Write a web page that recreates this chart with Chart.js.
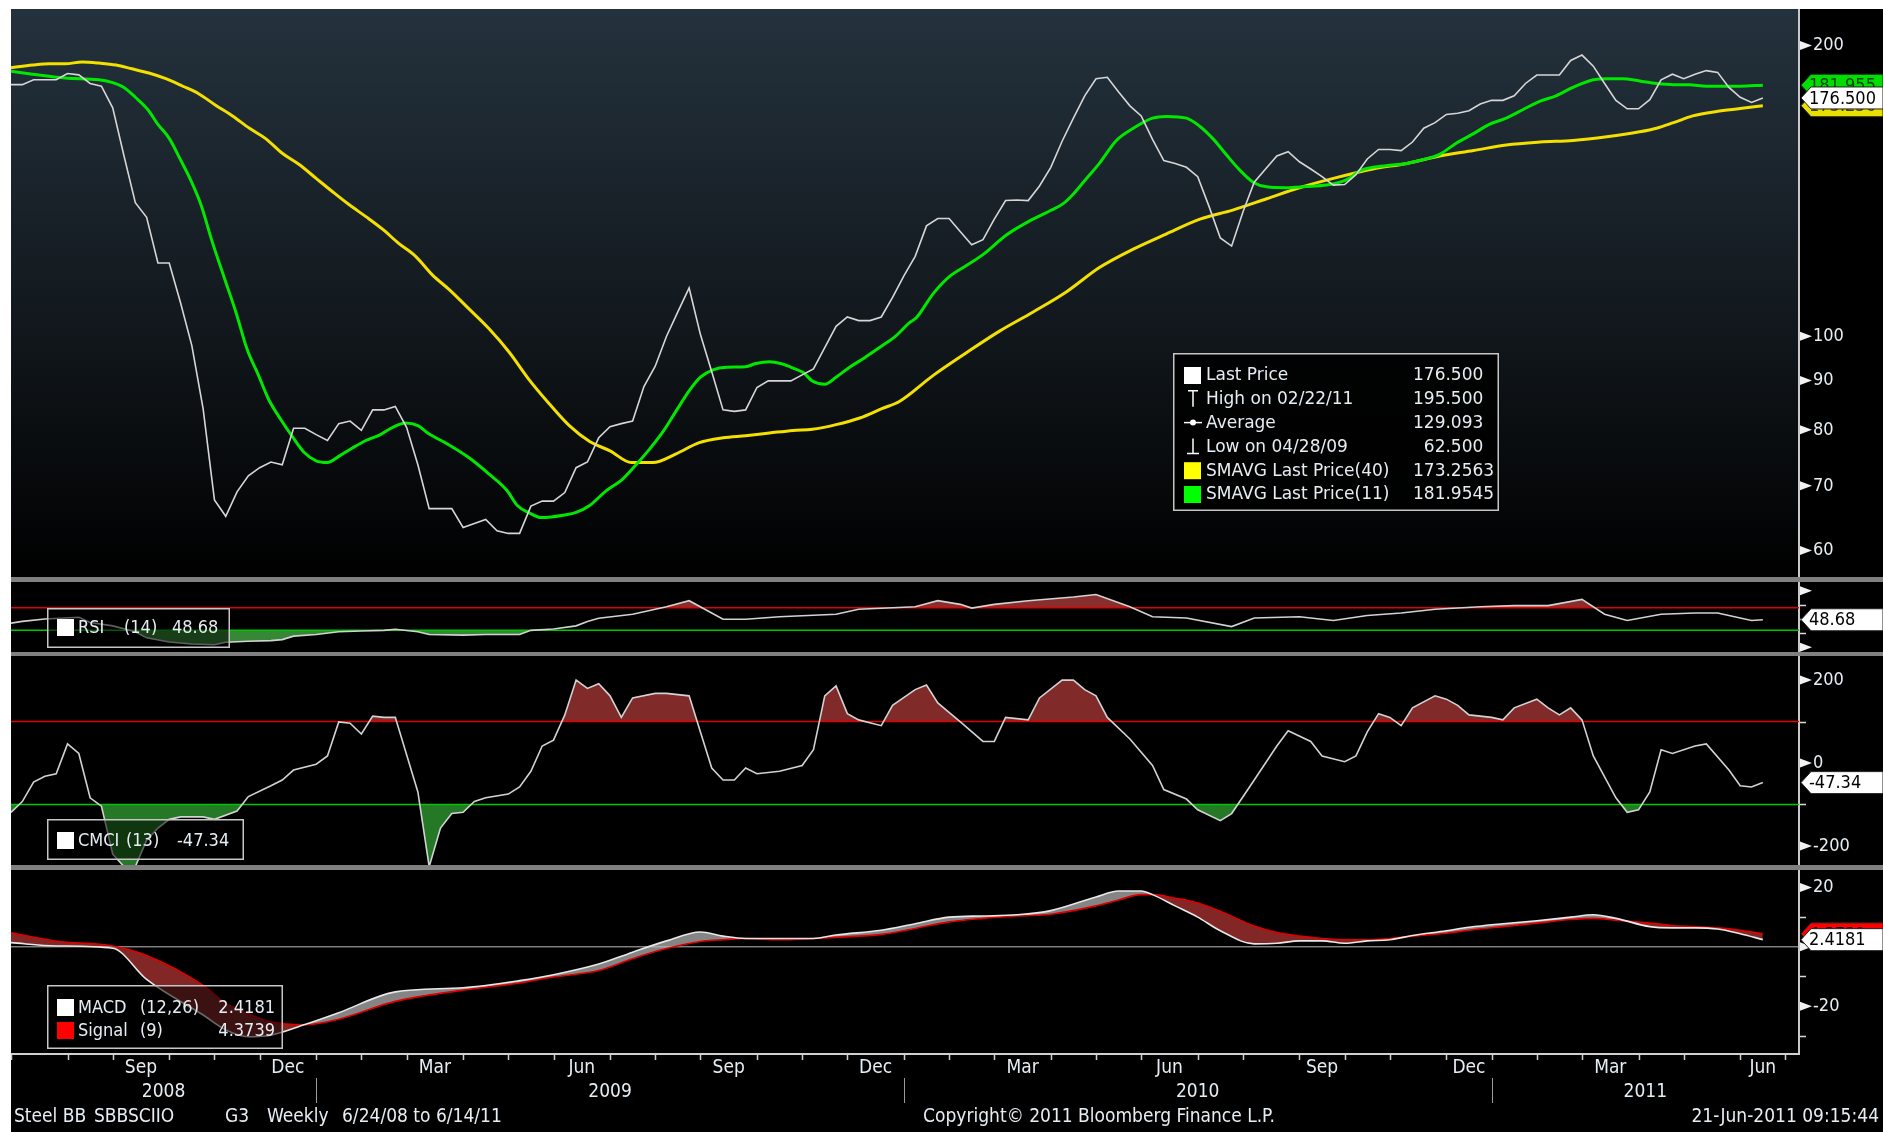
<!DOCTYPE html>
<html>
<head>
<meta charset="utf-8">
<title>Steel BB SBBSCIIO</title>
<script src="https://cdn.jsdelivr.net/npm/chart.js@4.4.1/dist/chart.umd.min.js"></script>
<style>
  html, body { margin: 0; padding: 0; background: #000; }
  #page { position: relative; width: 1883px; height: 1132px; overflow: hidden; background: #000; }
  #page canvas { position: absolute; left: 0; }
  .frame { position: absolute; background: #fff; }
  .sep { position: absolute; left: 11px; width: 1872px; background: #808080; }
</style>
</head>
<body>
<div id="page">
  <div class="frame" style="left:0;top:0;width:1883px;height:9px"></div>
  <div class="frame" style="left:0;top:0;width:11px;height:1132px"></div>
  <canvas id="cPrice" width="1883" height="568" style="top:9px"></canvas>
  <div class="sep" style="top:577px;height:5px"></div>
  <canvas id="cRsi" width="1883" height="70" style="top:582px"></canvas>
  <div class="sep" style="top:652px;height:4px"></div>
  <canvas id="cCmci" width="1883" height="209" style="top:656px"></canvas>
  <div class="sep" style="top:865px;height:5px"></div>
  <canvas id="cMacd" width="1883" height="262" style="top:870px"></canvas>
</div>
<script>
// weekly closes, one per week from 6/24/08 to 6/14/11
const price = [
  182.2, 182.2, 184.3, 184.3, 184.3, 187.1, 186.5, 182.7, 181.5, 172.4,
  153.7, 137.5, 132.8, 119.1, 119.1, 108.3, 97.8, 84.1, 67.7, 65.1,
  69.0, 71.7, 73.1, 74.1, 73.6, 80.3, 80.3, 79.1, 78.0, 81.2,
  81.7, 79.9, 83.9, 83.9, 84.6, 80.5, 73.6, 66.3, 66.3, 66.3,
  63.4, 64.0, 64.6, 62.9, 62.5, 62.5, 66.7, 67.5, 67.5, 68.9,
  73.1, 74.1, 78.5, 80.6, 81.2, 81.7, 88.7, 93.1, 100.0, 106.0,
  112.2, 100.4, 91.9, 83.9, 83.6, 83.9, 88.5, 89.9, 89.9, 89.9,
  91.2, 92.5, 97.3, 102.4, 104.7, 103.8, 103.8, 104.7, 109.7, 115.5,
  121.0, 130.1, 132.4, 132.4, 128.3, 124.4, 125.9, 132.2, 138.2, 138.4,
  138.2, 143.1, 149.6, 159.2, 168.2, 177.4, 184.8, 185.4, 179.0, 173.2,
  169.1, 159.9, 152.0, 151.0, 149.6, 146.3, 136.3, 126.4, 124.0, 134.5,
  144.4, 149.0, 153.7, 155.3, 151.6, 149.0, 146.3, 143.4, 143.6, 147.0,
  152.6, 156.1, 156.1, 155.7, 158.9, 164.2, 166.4, 169.7, 170.2, 171.2,
  174.0, 175.5, 175.5, 177.4, 182.7, 186.4, 186.4, 186.4, 193.0, 195.5,
  190.4, 182.7, 175.5, 172.0, 172.0, 175.8, 184.3, 186.8, 184.8, 186.8,
  188.4, 187.6, 181.0, 176.8, 174.6, 176.5
];
const avgPrice = 129.093;

// 40-week moving average, read at these week positions
const sma40At = [0, 1.9, 3.4, 4.8, 6.3, 7.8, 9.3, 10.7, 12.2, 13.7, 15.2, 16.6, 18.1, 19.6, 21.1, 22.5, 24.0, 25.5, 27.0, 28.4,
  29.9, 31.4, 32.9, 34.3, 35.8, 37.3, 38.8, 40.5, 42.3, 44.1, 45.8, 47.6, 49.4, 51.2, 53.0, 54.9, 56.8, 58.8, 60.9, 63.0,
  65.0, 67.1, 69.2, 70.9, 73.0, 75.1, 77.1, 78.6, 81.6, 84.5, 87.5, 90.4, 93.4, 96.3, 99.3, 102.2, 105.2, 108.1, 111.1, 114.0,
  117.0, 120.5, 123.5, 126.4, 129.4, 132.3, 135.3, 138.2, 141.2, 144.1, 145.6, 147.1, 148.8, 150.9, 153.0, 155.0];
const sma40 = [189.7, 190.9, 191.5, 191.5, 192.3, 191.8, 190.9, 189.2, 187.3, 184.8, 181.5, 178.3, 173.5, 169.1, 164.2, 160.3, 154.7, 150.6, 145.7, 141.3,
  136.9, 133.0, 129.0, 124.8, 121.0, 115.7, 111.7, 106.8, 101.8, 96.2, 90.3, 85.2, 80.8, 77.8, 76.1, 74.0, 74.0, 75.5, 77.6, 78.5,
  78.9, 79.4, 79.9, 80.1, 81.0, 82.3, 84.2, 85.6, 91.1, 96.1, 101.3, 105.9, 111.2, 117.8, 123.1, 127.6, 132.2, 135.1, 138.8, 142.5,
  145.7, 149.0, 151.0, 153.7, 155.7, 157.8, 158.9, 159.5, 160.9, 162.8, 164.2, 166.4, 169.1, 170.9, 172.1, 173.2563];

// 11-week moving average
const sma11At = [0, 1.9, 4.8, 7.8, 9.0, 10.0, 11.0, 12.1, 13.0, 14.0, 15.0, 15.9, 16.8, 17.8, 18.9, 19.9, 20.9, 21.9, 22.8, 23.9,
  24.9, 25.9, 27.0, 28.0, 29.0, 30.2, 31.4, 32.6, 33.8, 34.9, 36.0, 37.0, 38.5, 40.5, 42.3, 43.9, 44.8, 45.9, 46.9, 49.0,
  50.0, 51.2, 52.6, 54.1, 55.3, 56.5, 57.7, 58.8, 60.0, 61.0, 62.1, 63.3, 65.0, 65.9, 67.1, 68.1, 69.2, 70.1, 70.9, 72.0,
  73.0, 74.2, 75.4, 77.1, 78.3, 79.5, 80.1, 81.6, 83.0, 84.5, 86.0, 88.1, 90.1, 91.9, 93.1, 94.0, 95.1, 96.3, 97.8, 99.3,
  101.0, 102.2, 104.0, 105.2, 106.4, 107.5, 108.7, 109.9, 111.1, 112.8, 114.6, 116.4, 117.6, 118.4, 119.3, 120.5, 122.0, 123.5, 124.9, 126.4,
  127.9, 129.4, 130.8, 132.3, 133.8, 135.3, 136.7, 138.2, 140.0, 141.2, 142.6, 144.1, 145.6, 147.1, 148.5, 150.0, 151.5, 153.0, 155.0];
const sma11 = [188.1, 186.8, 185.1, 184.3, 183.1, 181.0, 176.8, 171.7, 165.7, 160.3, 152.3, 145.1, 136.9, 125.3, 114.7, 105.9, 96.9, 91.1, 86.0, 81.9,
  78.7, 75.9, 74.3, 74.0, 75.1, 76.6, 78.0, 79.0, 80.5, 81.3, 80.8, 79.2, 77.5, 74.9, 72.0, 69.2, 66.8, 65.6, 64.9, 65.3,
  65.7, 66.8, 69.1, 71.1, 73.6, 76.4, 79.7, 83.5, 87.8, 90.7, 92.3, 92.9, 93.0, 93.7, 94.1, 93.7, 92.7, 91.7, 89.9, 89.2,
  90.7, 92.9, 94.8, 97.8, 100.1, 103.3, 104.5, 110.7, 115.2, 118.3, 121.5, 127.4, 131.6, 134.8, 137.2, 140.4, 145.4, 151.0, 159.5, 164.2,
  168.2, 168.9, 168.2, 164.9, 159.9, 154.3, 148.7, 144.4, 142.8, 142.5, 142.9, 143.4, 144.4, 145.7, 148.3, 149.6, 150.3, 151.0, 152.3, 154.3,
  158.5, 162.1, 165.7, 168.2, 171.7, 175.2, 177.4, 181.0, 184.3, 184.8, 184.8, 183.8, 182.7, 182.2, 182.2, 181.5, 181.5, 181.5, 181.9545];

// RSI(14)
const rsiAt = [0, 1, 3, 6, 7, 9, 11, 12, 14, 16, 18, 19, 21, 23, 24, 25, 27, 29, 31, 33,
  34, 36, 37, 40, 42, 45, 46, 48, 50, 51, 52, 55, 58, 60, 62, 63, 65, 68, 73, 75,
  80, 82, 84, 85, 87, 90, 94, 96, 99, 101, 104, 108, 110, 114, 117, 120, 123, 126, 130, 133,
  136, 139, 141, 143, 146, 149, 151, 154, 155];
const rsi = [42.7, 45.8, 50.0, 53.0, 43.9, 37.9, 27.6, 16.7, 9.4, 5.8, 4.6, 8.8, 10.6, 11.8, 13.6, 19.7, 22.7, 27.6, 28.8, 30.0,
  31.8, 27.6, 22.7, 21.5, 22.7, 22.7, 30.0, 32.4, 37.9, 45.8, 51.2, 58.5, 71.6, 82.4, 60.6, 49.7, 49.7, 54.0, 58.5, 67.2,
  71.6, 82.4, 75.9, 69.3, 75.9, 82.4, 88.9, 93.4, 71.6, 54.0, 51.9, 36.6, 51.9, 54.0, 47.5, 56.3, 60.6, 67.2, 71.6, 73.7,
  73.7, 84.6, 58.5, 47.5, 58.5, 60.6, 60.6, 47.5, 48.68];

// CMCI(13)
const cmciAt = [0, 1, 2, 3, 4, 5, 6, 7, 8, 9, 10, 11, 12, 13, 14, 15, 17, 18, 20, 21,
  23, 24, 25, 27, 28, 29, 30, 31, 32, 33, 34, 36, 37, 38, 39, 40, 41, 42, 44, 45,
  46, 47, 48, 49, 50, 51, 52, 53, 54, 55, 57, 58, 60, 61, 62, 63, 64, 65, 66, 68,
  70, 71, 72, 73, 74, 75, 77, 78, 80, 81, 82, 84, 86, 87, 88, 90, 91, 93, 94, 95,
  96, 97, 99, 101, 102, 104, 105, 107, 108, 110, 112, 113, 115, 116, 118, 119, 120, 121, 122, 123,
  124, 126, 127, 128, 129, 131, 132, 133, 135, 136, 137, 138, 139, 140, 142, 143, 144, 145, 146, 147,
  149, 150, 152, 153, 154, 155];
const cmci = [-119, -93, -46, -32, -26, 46, 23, -84, -104, -220, -250, -250, -186, -157, -136, -130, -130, -136, -116, -81,
  -55, -41, -17, -3, 17, 99, 96, 70, 113, 110, 110, -70, -250, -157, -122, -119, -93, -84, -75, -58,
  -20, 41, 55, 116, 200, 180, 191, 162, 110, 157, 168, 168, 162, 75, -12, -41, -41, -12, -26, -20,
  -6, 32, 162, 186, 119, 104, 90, 139, 177, 188, 145, 99, 52, 52, 110, 104, 157, 200, 200, 177,
  162, 110, 58, -6, -64, -87, -113, -139, -122, -41, 41, 78, 52, 17, 3, 17, 75, 119, 110, 90,
  133, 162, 154, 139, 116, 110, 104, 133, 154, 133, 116, 133, 104, 17, -84, -119, -113, -70, 32, 23,
  41, 46, -17, -55, -58, -47.34];

// MACD(12,26) and its 9-week signal line
const macdAt = [0, 4, 9, 12, 17, 19, 21, 23, 26, 29, 34, 40, 45, 48, 52, 55, 58, 61, 63, 65,
  68, 71, 73, 77, 80, 83, 86, 89, 92, 96, 98, 100, 101, 103, 105, 107, 110, 112, 114, 116,
  118, 120, 122, 124, 127, 129, 132, 135, 138, 140, 142, 145, 147, 149, 151, 153, 155];
const macd = [1.4, 0.3, -0.5, -11.0, -23.0, -28.0, -30.3, -29.8, -26.2, -22.2, -15.2, -13.8, -11.4, -9.4, -5.8, -1.8, 2.0, 5.0, 3.6, 2.8,
  2.8, 2.8, 4.0, 5.6, 7.8, 10.0, 10.4, 10.8, 12.2, 16.8, 18.8, 18.8, 17.6, 13.8, 10.0, 5.4, 1.0, 1.2, 2.0, 2.0,
  1.2, 2.0, 2.4, 3.8, 5.4, 6.6, 7.8, 8.8, 10.0, 10.8, 9.6, 6.8, 6.4, 6.4, 6.0, 4.4, 2.4181];
const signal = [4.7, 1.9, 0.3, -2.9, -13.0, -19.0, -22.5, -25.3, -26.3, -24.4, -18.4, -14.6, -12.2, -10.2, -8.0, -4.0, -0.6, 1.8, 2.4, 2.8,
  2.4, 2.8, 3.2, 4.2, 6.2, 8.4, 9.6, 10.4, 11.0, 13.8, 15.8, 17.6, 17.6, 16.4, 14.8, 12.0, 7.0, 4.8, 3.6, 2.8,
  2.4, 2.4, 2.8, 3.6, 4.6, 5.6, 6.8, 8.0, 9.2, 9.6, 9.0, 8.0, 7.2, 6.8, 6.4, 5.6, 4.3739];

const priceTicks = [60, 70, 80, 90, 100, 200];
const cmciTicks = [200, 0, -200];
const macdTicks = [20, 0, -20];
const MONTHS = ['Jan', 'Feb', 'Mar', 'Apr', 'May', 'Jun', 'Jul', 'Aug', 'Sep', 'Oct', 'Nov', 'Dec'];

const FIRST_WEEK = Date.UTC(2008, 5, 24);
const X_MAX = 158.2;          // weeks shown up to the value axis
const AXIS_W = 84;
const COND = '"DejaVu Sans Condensed", "DejaVu Sans", sans-serif';
const WIDE = '"DejaVu Sans", Verdana, sans-serif';
const TXT = '#e6edf3';

const xy = (xs, ys) => xs.map((x, i) => ({ x, y: ys[i] }));
const hline = v => [{ x: 0, y: v }, { x: X_MAX, y: v }];
const last = a => a[a.length - 1];
const fix = (v, n) => (v + 1e-9).toFixed(n);
const weekDate = i => new Date(FIRST_WEEK + i * 7 * 86400000);
const pad2 = n => String(n).padStart(2, '0');
const mmddyy = d => `${pad2(d.getUTCMonth() + 1)}/${pad2(d.getUTCDate())}/${pad2(d.getUTCFullYear() % 100)}`;
const mdyy = d => `${d.getUTCMonth() + 1}/${d.getUTCDate()}/${pad2(d.getUTCFullYear() % 100)}`;

// last weekly point of every month, used for ticks and labels
const monthEnds = [];
for (let i = 0; i < 165; i++) {
  const a = weekDate(i), b = weekDate(i + 1);
  if (a.getUTCMonth() !== b.getUTCMonth()) monthEnds.push({ i, m: a.getUTCMonth(), y: a.getUTCFullYear() });
}

function line(data, color, width, extra) {
  return Object.assign({ data, borderColor: color, borderWidth: width, pointRadius: 0, tension: 0, fill: false }, extra || {});
}

function options(y, padBottom) {
  return {
    responsive: false, animation: false, events: [],
    layout: { padding: { left: 11, right: 0, top: 0, bottom: padBottom || 0 } },
    plugins: { legend: { display: false }, tooltip: { enabled: false }, filler: { drawTime: 'beforeDatasetsDraw' } },
    scales: {
      x: { type: 'linear', min: 0, max: X_MAX, display: false },
      y: {
        type: y.type || 'linear', position: 'right', min: y.min, max: y.max,
        afterBuildTicks: s => { s.ticks = (y.ticks || []).map(value => ({ value })); },
        afterFit: s => { s.width = AXIS_W; s.paddingTop = 0; s.paddingBottom = 0; },
        grid: { display: false, drawTicks: false },
        border: { display: true, color: '#c8c8c8', width: 2 },
        ticks: { color: TXT, font: { family: COND, size: 18 }, padding: 14, autoSkip: false, callback: v => String(v) }
      }
    }
  };
}

// arrow marks on the value axis
const axisMarks = (major, minor) => ({
  id: 'axisMarks',
  afterDraw(chart) {
    const { ctx, chartArea, scales: { y } } = chart;
    const x0 = chartArea.right + 1;
    ctx.save();
    ctx.fillStyle = '#f2f2f2';
    major.forEach(v => {
      const py = y.getPixelForValue(v);
      ctx.beginPath(); ctx.moveTo(x0, py - 4.5); ctx.lineTo(x0 + 12, py); ctx.lineTo(x0, py + 4.5); ctx.closePath(); ctx.fill();
    });
    ctx.strokeStyle = '#d8d8d8'; ctx.lineWidth = 1.5;
    minor.forEach(v => {
      const py = Math.round(y.getPixelForValue(v)) + 0.5;
      ctx.beginPath(); ctx.moveTo(x0, py); ctx.lineTo(x0 + 6, py); ctx.stroke();
    });
    ctx.restore();
  }
});

// last-value flags pinned to the value axis
const valueTags = tags => ({
  id: 'valueTags',
  afterDraw(chart) {
    const { ctx, chartArea, scales: { y } } = chart;
    const x0 = chartArea.right + 2, x1 = chart.width;
    ctx.save();
    ctx.font = `18px ${COND}`; ctx.textBaseline = 'middle'; ctx.textAlign = 'left';
    tags.forEach(t => {
      const py = y.getPixelForValue(t.value);
      ctx.beginPath();
      ctx.moveTo(x0, py); ctx.lineTo(x0 + 10, py - 11); ctx.lineTo(x1, py - 11);
      ctx.lineTo(x1, py + 11); ctx.lineTo(x0 + 10, py + 11); ctx.closePath();
      ctx.fillStyle = t.bg; ctx.fill();
      ctx.lineWidth = 1; ctx.strokeStyle = '#222'; ctx.stroke();
      ctx.fillStyle = t.fg; ctx.fillText(t.text, x0 + 8, py + 1);
    });
    ctx.restore();
  }
});

function frameBox(ctx, x, y, w, h, fill) {
  ctx.fillStyle = fill; ctx.fillRect(x, y, w, h);
  ctx.strokeStyle = '#c6c6c6'; ctx.lineWidth = 1.5; ctx.strokeRect(x + 0.75, y + 0.75, w - 1.5, h - 1.5);
}

// small study key in the lower left of a pane (page coordinates)
const keyBox = (top, box, rows) => ({
  id: 'keyBox',
  afterDraw(chart) {
    const ctx = chart.ctx;
    ctx.save();
    frameBox(ctx, box.x, box.y - top, box.w, box.h, 'rgba(0,0,0,0.55)');
    ctx.font = `18px ${COND}`; ctx.textBaseline = 'middle';
    rows.forEach(r => {
      const cy = r.y - top;
      ctx.fillStyle = r.swatch; ctx.fillRect(57, cy - 8, 17, 17);
      ctx.fillStyle = TXT;
      r.cells.forEach(c => { ctx.textAlign = c.align || 'left'; ctx.fillText(c.text, c.x, cy + 1); });
    });
    ctx.restore();
  }
});

// price pane background and legend
const pricePane = {
  id: 'pricePane',
  beforeDraw(chart) {
    const { ctx, chartArea: a } = chart;
    const g = ctx.createLinearGradient(0, a.top, 0, a.bottom);
    g.addColorStop(0, '#24323d');
    g.addColorStop(0.55, '#12181d');
    g.addColorStop(1, '#000000');
    ctx.save(); ctx.fillStyle = g; ctx.fillRect(a.left, a.top, a.right - a.left, a.bottom - a.top); ctx.restore();
  },
  afterDraw(chart) {
    const ctx = chart.ctx, top = 9;
    const hi = Math.max(...price), lo = Math.min(...price);
    const rows = [
      { icon: 'sq', color: '#ffffff', text: 'Last Price', val: fix(last(price), 3) },
      { icon: 'hi', text: `High on ${mmddyy(weekDate(price.indexOf(hi)))}`, val: fix(hi, 3) },
      { icon: 'avg', text: 'Average', val: fix(avgPrice, 3) },
      { icon: 'lo', text: `Low on ${mmddyy(weekDate(price.indexOf(lo)))}`, val: fix(lo, 3) },
      { icon: 'sq', color: '#ffff00', text: 'SMAVG Last Price(40)', val: fix(last(sma40), 4), left: true },
      { icon: 'sq', color: '#00ff00', text: 'SMAVG Last Price(11)', val: fix(last(sma11), 4), left: true }
    ];
    ctx.save();
    frameBox(ctx, 1173, 353 - top, 326, 158, 'rgba(0,0,0,0.88)');
    ctx.font = `17px ${WIDE}`; ctx.textBaseline = 'middle';
    const valX = 1413, valR = valX + ctx.measureText(rows[0].val).width;
    rows.forEach((r, k) => {
      const cy = 375 + k * 23.8 - top;
      ctx.fillStyle = r.color || '#ffffff'; ctx.strokeStyle = '#ffffff'; ctx.lineWidth = 1.5;
      if (r.icon === 'sq') ctx.fillRect(1184, cy - 8, 17, 17);
      if (r.icon === 'hi') {
        ctx.beginPath(); ctx.moveTo(1188, cy - 8); ctx.lineTo(1198, cy - 8); ctx.moveTo(1193, cy - 8); ctx.lineTo(1193, cy + 8); ctx.stroke();
      }
      if (r.icon === 'avg') {
        ctx.beginPath(); ctx.moveTo(1184, cy); ctx.lineTo(1202, cy); ctx.stroke();
        ctx.beginPath(); ctx.arc(1193, cy, 3, 0, Math.PI * 2); ctx.fill();
      }
      if (r.icon === 'lo') {
        ctx.beginPath(); ctx.moveTo(1193, cy - 8); ctx.lineTo(1193, cy + 7); ctx.moveTo(1187, cy + 7); ctx.lineTo(1199, cy + 7); ctx.stroke();
      }
      ctx.fillStyle = TXT; ctx.textAlign = 'left';
      ctx.fillText(r.text, 1206, cy + 1);
      if (r.left) ctx.fillText(r.val, valX, cy + 1);
      else { ctx.textAlign = 'right'; ctx.fillText(r.val, valR, cy + 1); }
    });
    ctx.restore();
  }
};

// month / year time axis and footer under the bottom pane
const timeAxis = {
  id: 'timeAxis',
  afterDraw(chart) {
    const { ctx, chartArea: a, scales: { x } } = chart;
    const yl = a.bottom;
    ctx.save();
    ctx.strokeStyle = '#d0d0d0'; ctx.lineWidth = 2;
    ctx.beginPath(); ctx.moveTo(a.left, yl + 1); ctx.lineTo(a.right + 1, yl + 1); ctx.stroke();
    ctx.lineWidth = 1.5;
    ctx.font = `19px ${COND}`; ctx.fillStyle = TXT; ctx.textAlign = 'center'; ctx.textBaseline = 'middle';
    monthEnds.forEach((m, k) => {
      const px = Math.round(x.getPixelForValue(m.i)) + 0.5;
      if (m.i <= X_MAX) { ctx.beginPath(); ctx.moveTo(px, yl + 1); ctx.lineTo(px, yl + 7); ctx.stroke(); }
      if (k > 0 && m.m % 3 === 2) {
        const c = (monthEnds[k - 1].i + m.i) / 2;
        if (c <= X_MAX) ctx.fillText(MONTHS[m.m], x.getPixelForValue(c), yl + 15);
      }
    });
    // year spans split at the last week of December
    const cuts = [0, ...monthEnds.filter(m => m.m === 11 && m.i < X_MAX).map(m => m.i), X_MAX];
    ctx.strokeStyle = '#9a9a9a'; ctx.lineWidth = 1;
    for (let k = 0; k < cuts.length - 1; k++) {
      const year = weekDate(cuts[k] + 1).getUTCFullYear();
      ctx.fillText(String(year), x.getPixelForValue((cuts[k] + cuts[k + 1]) / 2), yl + 39);
      if (k > 0) {
        const px = Math.round(x.getPixelForValue(cuts[k])) + 0.5;
        ctx.beginPath(); ctx.moveTo(px, yl + 25); ctx.lineTo(px, yl + 50); ctx.stroke();
      }
    }
    // footer line
    ctx.font = `19px ${COND}`; ctx.textAlign = 'left';
    const fy = yl + 64;
    [['Steel BB', 14], ['SBBSCIIO', 94], ['G3', 225], ['Weekly', 267],
     [`${mdyy(weekDate(0))} to ${mdyy(weekDate(price.length - 1))}`, 342]].forEach(([t, px]) => ctx.fillText(t, px, fy));
    ctx.textAlign = 'center';
    ctx.fillText('Copyright\u00A9 2011 Bloomberg Finance L.P.', 1099, fy);
    ctx.textAlign = 'right';
    ctx.fillText('21-Jun-2011 09:15:44', 1879, fy);
    ctx.restore();
  }
};

// ---- price pane
new Chart(document.getElementById('cPrice'), {
  type: 'line',
  data: {
    datasets: [
      line(price.map((v, i) => ({ x: i, y: v })), '#d6d6d6', 1.6),
      line(xy(sma11At, sma11), '#00e800', 3, { cubicInterpolationMode: 'monotone' }),
      line(xy(sma40At, sma40), '#f4e000', 3, { cubicInterpolationMode: 'monotone' })
    ]
  },
  options: options({ type: 'logarithmic', min: 56.33, max: 218.2, ticks: priceTicks }),
  plugins: [pricePane, axisMarks(priceTicks, []), valueTags([
    { value: last(sma11), text: fix(last(sma11), 3), bg: '#00dd00', fg: '#004400' },
    { value: last(sma40), text: fix(last(sma40), 3), bg: '#e8e000', fg: '#444000' },
    { value: last(price), text: fix(last(price), 3), bg: '#ffffff', fg: '#000000' }
  ])]
});

// ---- RSI pane
new Chart(document.getElementById('cRsi'), {
  type: 'line',
  data: {
    datasets: [
      line(xy(rsiAt, rsi), '#d2d2d2', 1.6, { fill: { target: { value: 70 }, above: 'rgba(150,52,52,0.9)', below: 'rgba(0,0,0,0)' } }),
      line(xy(rsiAt, rsi), 'rgba(0,0,0,0)', 0, { fill: { target: { value: 30 }, above: 'rgba(0,0,0,0)', below: 'rgba(60,150,60,0.9)' } }),
      line(hline(70), '#e00000', 1.5),
      line(hline(30), '#00c800', 1.5)
    ]
  },
  options: options({ min: -8.3, max: 115.4, ticks: [] }),
  plugins: [axisMarks([100, 0], [75, 50, 25]), valueTags([
    { value: last(rsi), text: fix(last(rsi), 2), bg: '#ffffff', fg: '#000000' }
  ]), keyBox(582, { x: 47, y: 608, w: 183, h: 40 }, [
    { y: 627, swatch: '#ffffff', cells: [{ text: 'RSI', x: 78 }, { text: '(14)', x: 124 }, { text: fix(last(rsi), 2), x: 172 }] }
  ])]
});

// ---- CMCI pane
new Chart(document.getElementById('cCmci'), {
  type: 'line',
  data: {
    datasets: [
      line(xy(cmciAt, cmci), '#d2d2d2', 1.6, { fill: { target: { value: 100 }, above: 'rgba(140,46,46,0.92)', below: 'rgba(0,0,0,0)' } }),
      line(xy(cmciAt, cmci), 'rgba(0,0,0,0)', 0, { fill: { target: { value: -100 }, above: 'rgba(0,0,0,0)', below: 'rgba(40,130,40,0.92)' } }),
      line(hline(100), '#e00000', 1.5),
      line(hline(-100), '#00c800', 1.5)
    ]
  },
  options: options({ min: -246.1, max: 258.1, ticks: cmciTicks }),
  plugins: [axisMarks(cmciTicks, [100, -100]), valueTags([
    { value: last(cmci), text: fix(last(cmci), 2), bg: '#ffffff', fg: '#000000' }
  ]), keyBox(656, { x: 47, y: 819, w: 197, h: 41 }, [
    { y: 840, swatch: '#ffffff', cells: [{ text: 'CMCI', x: 78 }, { text: '(13)', x: 126 }, { text: fix(last(cmci), 2), x: 177 }] }
  ])]
});

// ---- MACD pane with the time axis underneath
new Chart(document.getElementById('cMacd'), {
  type: 'line',
  data: {
    datasets: [
      line(xy(macdAt, macd), '#e8e8e8', 1.6, { cubicInterpolationMode: 'monotone', fill: { target: 1, above: 'rgba(140,140,140,0.95)', below: 'rgba(138,40,40,0.95)' } }),
      line(xy(macdAt, signal), '#e00000', 1.6, { cubicInterpolationMode: 'monotone' }),
      line(hline(0), '#bdbdbd', 1)
    ]
  },
  options: options({ min: -35.8, max: 25.9, ticks: macdTicks }, 79),
  plugins: [axisMarks(macdTicks, [10, -10, -30]), valueTags([
    { value: last(signal), text: fix(last(signal), 4), bg: '#ff0000', fg: '#000000' },
    { value: last(macd), text: fix(last(macd), 4), bg: '#ffffff', fg: '#000000' }
  ]), keyBox(870, { x: 47, y: 985, w: 236, h: 64 }, [
    { y: 1007, swatch: '#ffffff', cells: [{ text: 'MACD', x: 78 }, { text: '(12,26)', x: 140 }, { text: fix(last(macd), 4), x: 275, align: 'right' }] },
    { y: 1030, swatch: '#ff0000', cells: [{ text: 'Signal', x: 78 }, { text: '(9)', x: 140 }, { text: fix(last(signal), 4), x: 275, align: 'right' }] }
  ]), timeAxis]
});
</script>
</body>
</html>
